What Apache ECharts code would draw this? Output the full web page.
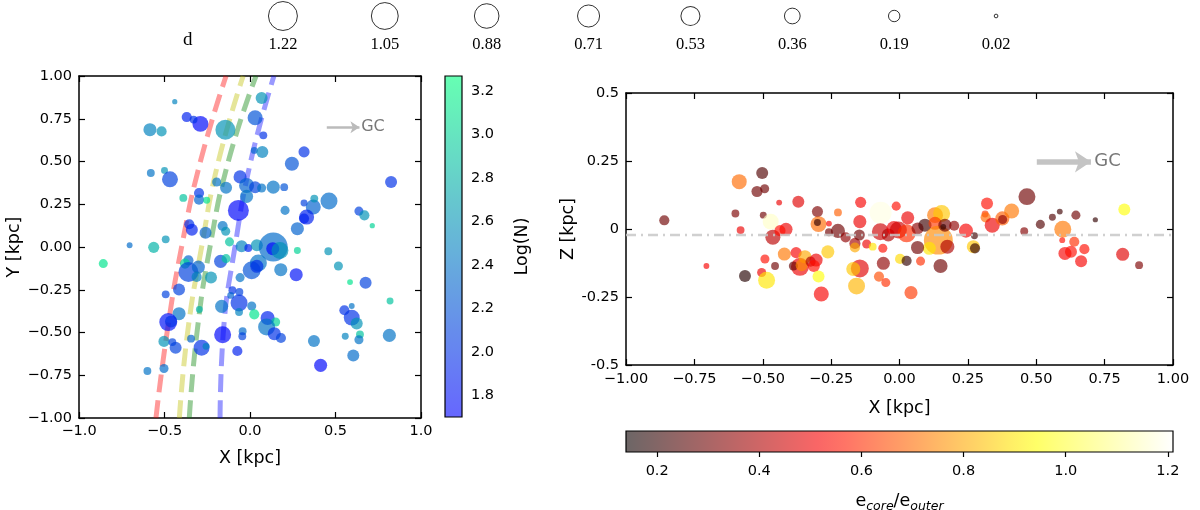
<!DOCTYPE html>
<html>
<head>
<meta charset="utf-8">
<script src="https://cdn.jsdelivr.net/npm/echarts@6/dist/echarts.min.js"></script>
<style>
  html, body { margin: 0; padding: 0; background: #fff; }
  #chart { width: 1200px; height: 510px; }
</style>
</head>
<body>
<div id="chart"></div>
<script>
// left panel: X-Y positions, size d, colour Log(N)
var leftX = [-0.44,-0.37,-0.29,-0.33,-0.585,-0.517,-0.144,0.068,0.03,0.078,0.025,0.072,0.316,0.245,-0.58,-0.5,-0.468,-0.195,-0.14,-0.058,
  -0.02,0.03,0.068,0.136,0.2,0.825,-0.298,-0.298,-0.39,-0.253,-0.068,-0.02,0.462,0.37,0.316,0.376,0.331,0.316,0.205,0.637,
  0.669,0.715,0.277,-0.355,-0.34,-0.26,-0.16,-0.142,-0.12,-0.493,-0.563,-0.704,-0.858,-0.049,-0.01,0.04,0.136,0.133,0.175,0.277,
  0.458,0.517,0.585,0.676,0.819,0.049,0.01,0.04,0.18,0.27,-0.058,-0.172,-0.14,-0.36,-0.38,-0.36,-0.302,-0.312,-0.228,-0.415,
  -0.493,-0.103,-0.062,-0.113,-0.064,-0.064,-0.166,-0.296,-0.415,-0.478,-0.462,0.01,0.025,0.103,0.15,0.097,0.142,0.181,-0.16,-0.043,
  -0.045,-0.074,-0.283,-0.257,-0.435,-0.503,-0.454,-0.345,-0.6,-0.503,0.374,0.413,0.604,0.552,0.595,0.595,0.624,0.643,0.637,0.557,0.815]
var leftY = [0.85,0.76,0.72,0.745,0.686,0.676,0.686,0.871,0.756,0.653,0.565,0.556,0.556,0.487,0.433,0.448,0.396,0.38,0.347,0.41,
  0.36,0.35,0.345,0.35,0.35,0.38,0.316,0.277,0.287,0.273,0.214,0.296,0.269,0.234,0.257,0.283,0.175,0.166,0.214,0.21,
  0.185,0.125,0.107,0.133,0.101,0.084,0.123,0.092,0.03,0.045,-0.002,0.01,-0.097,0.004,-0.006,0.01,0.0,-0.01,-0.02,-0.02,
  -0.025,-0.111,-0.205,-0.209,-0.316,-0.094,-0.136,-0.113,-0.133,-0.162,-0.179,-0.084,-0.068,-0.078,-0.097,-0.146,-0.117,-0.175,-0.179,-0.248,
  -0.277,-0.253,-0.263,-0.283,-0.327,-0.38,-0.347,-0.366,-0.39,-0.439,-0.435,-0.345,-0.394,-0.415,-0.439,-0.468,-0.507,-0.532,-0.513,-0.493,
  -0.522,-0.608,-0.589,-0.581,-0.589,-0.552,-0.556,-0.536,-0.725,-0.711,-0.55,-0.692,-0.634,-0.37,-0.345,-0.413,-0.448,-0.511,-0.542,-0.522,-0.517]
var leftD = [0.04,0.15,0.37,0.09,0.25,0.15,0.58,0.21,0.33,0.09,0.07,0.21,0.18,0.29,0.09,0.07,0.37,0.12,0.21,0.25,
  0.33,0.21,0.12,0.25,0.09,0.21,0.15,0.15,0.09,0.07,0.64,0.25,0.42,0.33,0.07,0.09,0.33,0.15,0.12,0.12,
  0.15,0.04,0.25,0.15,0.21,0.21,0.15,0.12,0.12,0.09,0.18,0.05,0.12,0.21,0.09,0.21,1.22,0.25,0.42,0.07,
  0.09,0.12,0.05,0.21,0.07,0.42,0.47,0.25,0.25,0.25,0.12,0.25,0.12,0.15,0.15,0.58,0.25,0.15,0.21,0.21,
  0.09,0.09,0.09,0.07,0.42,0.09,0.25,0.07,0.25,0.47,0.21,0.12,0.15,0.29,0.12,0.42,0.25,0.15,0.42,0.09,
  0.09,0.15,0.37,0.07,0.21,0.18,0.09,0.09,0.09,0.12,0.21,0.25,0.21,0.15,0.05,0.37,0.21,0.09,0.12,0.07,0.25]
var leftLogN = [2.5,1.9,1.75,2.0,2.5,2.6,2.6,2.6,2.2,2.0,2.3,2.5,2.0,2.2,2.4,2.6,2.1,2.4,2.4,2.0,
  2.3,2.1,2.4,2.4,2.2,2.0,2.0,2.3,2.9,3.1,1.75,2.4,2.35,2.3,2.1,2.6,1.9,1.9,2.4,2.1,
  2.6,3.0,2.3,2.0,1.9,2.3,2.4,2.6,2.9,2.6,2.8,2.35,3.1,2.5,1.9,2.6,2.35,1.75,2.6,3.0,
  2.6,2.6,3.1,2.1,2.9,2.4,2.2,2.0,2.4,1.8,2.4,2.1,2.9,2.3,3.0,2.1,2.3,2.5,2.6,2.1,
  2.1,2.0,2.1,2.3,2.0,2.5,2.4,2.8,2.4,1.8,2.0,2.4,3.1,1.9,3.0,2.4,2.0,2.1,1.75,2.35,
  2.1,1.9,2.0,2.5,2.1,2.6,2.1,2.3,2.4,2.35,2.4,1.75,2.35,2.0,2.4,2.0,2.6,2.9,2.4,2.5,2.4]

// right panel: X-Z positions, size d, colour e_core/e_outer
var rightX = [-0.86,-0.706,-0.6,-0.581,-0.586,-0.502,-0.521,-0.493,-0.498,-0.44,-0.471,-0.463,-0.415,-0.437,-0.37,-0.492,-0.455,-0.504,-0.565,-0.486,
  -0.421,-0.378,-0.364,-0.388,-0.346,-0.358,-0.325,-0.305,-0.313,-0.296,-0.286,-0.262,-0.3,-0.296,-0.3,-0.258,-0.225,-0.225,-0.258,-0.197,
  -0.163,-0.163,-0.147,-0.145,-0.142,-0.069,-0.012,-0.12,-0.098,-0.061,-0.07,-0.041,-0.02,-0.059,-0.145,-0.169,-0.157,-0.075,-0.05,0.03,
  -0.004,0.026,0.066,0.093,0.13,0.154,0.13,0.142,0.166,0.16,0.2,0.175,0.109,0.066,0.002,0.026,0.077,0.15,0.042,0.243,
  0.274,0.27,0.276,0.32,0.313,0.315,0.339,0.376,0.377,0.41,0.466,0.456,0.515,0.559,0.586,0.645,0.716,0.822,0.597,0.595,
  0.639,0.605,0.627,0.676,0.664,0.816,0.876]
var rightZ = [0.032,-0.136,0.057,-0.004,0.174,0.206,0.138,0.148,0.051,0.097,0.027,-0.03,-0.001,-0.006,0.1,-0.11,-0.136,-0.16,-0.173,-0.188,
  -0.092,-0.087,-0.139,-0.136,-0.102,-0.133,-0.12,-0.114,-0.136,-0.175,-0.239,-0.084,0.064,0.018,0.024,0.02,0.061,-0.007,-0.012,-0.031,
  -0.053,-0.068,-0.022,0.027,0.098,0.06,0.084,-0.055,-0.065,-0.071,-0.01,-0.022,0.002,-0.126,-0.145,-0.147,-0.21,-0.175,-0.197,0.041,
  -0.004,-0.016,0.002,0.014,0.051,0.057,0.021,-0.041,0.014,0.008,0.012,-0.065,-0.071,-0.068,-0.11,-0.117,-0.118,-0.136,-0.234,-0.006,
  -0.025,-0.065,-0.071,0.094,0.055,0.043,0.014,0.039,0.035,0.066,0.119,-0.008,0.017,0.043,0.064,0.051,0.034,0.072,-0.001,-0.041,
  -0.047,-0.09,-0.084,-0.074,-0.119,-0.093,-0.133]
var rightD = [0.15,0.05,0.09,0.09,0.33,0.21,0.18,0.12,0.07,0.05,0.37,0.33,0.25,0.18,0.21,0.12,0.09,0.12,0.21,0.42,
  0.25,0.18,0.47,0.12,0.25,0.21,0.15,0.25,0.21,0.21,0.33,0.25,0.18,0.37,0.07,0.05,0.09,0.29,0.09,0.15,
  0.18,0.15,0.18,0.25,0.18,0.7,0.12,0.12,0.09,0.12,0.42,0.25,0.33,0.25,0.47,0.29,0.42,0.15,0.12,0.25,
  0.42,0.47,0.21,0.25,0.37,0.42,0.25,1.22,0.25,0.05,0.15,0.29,0.25,0.25,0.15,0.15,0.12,0.29,0.25,0.29,
  0.07,0.25,0.15,0.21,0.07,0.15,0.33,0.29,0.12,0.33,0.42,0.09,0.12,0.07,0.05,0.12,0.04,0.21,0.42,0.05,
  0.15,0.25,0.21,0.15,0.21,0.25,0.09]
var rightE = [0.3,0.52,0.32,0.5,0.7,0.25,0.3,0.3,0.3,0.5,1.15,0.42,0.5,0.55,0.48,0.55,0.3,0.5,0.18,0.9,
  0.72,0.52,0.5,0.28,0.8,0.75,0.4,0.5,0.55,0.95,0.52,0.85,0.32,0.7,0.2,0.52,0.68,0.3,0.3,0.35,
  0.38,0.8,0.3,0.5,0.52,1.18,0.55,0.5,0.9,0.55,0.45,0.4,0.5,0.35,0.48,0.85,0.82,0.65,0.6,0.5,
  0.45,0.6,0.35,0.22,0.72,0.85,0.62,0.75,0.3,0.2,0.35,0.4,0.9,0.3,0.88,0.2,0.6,0.3,0.62,0.52,
  0.22,0.85,0.2,0.55,0.62,0.7,0.5,0.68,0.35,0.72,0.3,0.33,0.25,0.25,0.22,0.3,0.2,0.95,0.72,0.55,
  0.6,0.52,0.55,0.55,0.52,0.48,0.32]

// dashed arm lines (X at the listed Y)
var armY = [-1, -0.5, 0, 0.5, 1]
var armRed = [-0.55, -0.485, -0.40, -0.29, -0.14]
var armYellow = [-0.413, -0.365, -0.283, -0.185, -0.04]
var armGreen = [-0.355, -0.31, -0.234, -0.127, 0.035]
var armBlue = [-0.175, -0.156, -0.088, 0.004, 0.14]

// size legend
var legendD = [1.22, 1.05, 0.88, 0.71, 0.53, 0.36, 0.19, 0.02]
var logNTicks = [1.8, 2.0, 2.2, 2.4, 2.6, 2.8, 3.0, 3.2]
var eTicks = [0.2, 0.4, 0.6, 0.8, 1.0, 1.2]
var logNMin = 1.70, logNMax = 3.27
var eMin = 0.139, eMax = 1.21
var zMid = -0.022

var FONT = 'DejaVu Sans'
function sizeOf(d) { return 26.2 * Math.sqrt(d) }
function minus(s) { return s.replace('-', '\u2212') }

// colormaps
function winter(t) { return [0, t, 1 - 0.5 * t] }
function hot(t) {
  var r = Math.min(1, 0.0416 + t / 0.365 * (1 - 0.0416))
  var g = Math.max(0, Math.min(1, (t - 0.365) / (0.746 - 0.365)))
  var b = Math.max(0, Math.min(1, (t - 0.746) / (1 - 0.746)))
  return [r, g, b]
}
function rgb(c, alpha) {
  var a = alpha == null ? 1 : alpha
  var f = function (v) { return Math.round((v * a + (1 - a)) * 255) }
  return 'rgb(' + f(c[0]) + ',' + f(c[1]) + ',' + f(c[2]) + ')'
}
function samples(fn, n, alpha) {
  var out = []
  for (var i = 0; i <= n; i++) out.push(rgb(fn(i / n), alpha))
  return out
}
function stops(fn, n, alpha) {
  var out = []
  for (var i = 0; i <= n; i++) out.push({ offset: i / n, color: rgb(fn(i / n), alpha) })
  return out
}

var leftData = leftX.map(function (x, i) { return [x, leftY[i], leftLogN[i], leftD[i]] })
var rightData = rightX.map(function (x, i) { return [x, rightZ[i], rightE[i], rightD[i]] })
function arm(xs) { return xs.map(function (x, i) { return [x, armY[i]] }) }

var chart = echarts.init(document.getElementById('chart'))

var tickStyle = { inside: true, length: 6, lineStyle: { color: '#000', width: 1.2 } }
var lineStyle = { onZero: false, lineStyle: { color: '#000', width: 1.5 } }
var labelStyle = { color: '#000', fontFamily: FONT, fontSize: 14.5 }
var nameStyle = { color: '#000', fontFamily: FONT, fontSize: 17.5 }

function frameAxis(grid, pos, min, max, interval) {
  return { gridIndex: grid, type: 'value', position: pos, min: min, max: max, interval: interval,
    axisLine: lineStyle, axisTick: tickStyle, axisLabel: { show: false }, splitLine: { show: false } }
}

function colorbar(fn, horizontal) {
  return function (params, api) {
    var p0 = horizontal ? api.coord([eMin, 1]) : api.coord([0, logNMax])
    var p1 = horizontal ? api.coord([eMax, 0]) : api.coord([1, logNMin])
    var grad = horizontal
      ? new echarts.graphic.LinearGradient(0, 0, 1, 0, stops(fn, 20, 0.6))
      : new echarts.graphic.LinearGradient(0, 1, 0, 0, stops(fn, 20, 0.6))
    return {
      type: 'rect',
      shape: { x: p0[0], y: p0[1], width: p1[0] - p0[0], height: p1[1] - p0[1] },
      style: { fill: grad, stroke: '#000', lineWidth: 1.2 }
    }
  }
}

function armSeries(xs, color) {
  return {
    type: 'line', xAxisIndex: 0, yAxisIndex: 0, data: arm(xs), smooth: true, symbol: 'none',
    lineStyle: { color: color, width: 5, opacity: 0.4, type: [18, 8] }, z: 1, silent: true
  }
}

chart.setOption({
  animation: false,
  backgroundColor: '#fff',
  grid: [
    { left: 79, top: 76, width: 342, height: 342, outerBoundsMode: 'none' },
    { left: 626, top: 93, width: 547, height: 272, outerBoundsMode: 'none' },
    { left: 445, top: 76, width: 17, height: 341, outerBoundsMode: 'none' },
    { left: 626, top: 431, width: 547, height: 21, outerBoundsMode: 'none' },
    { left: 232, top: 3, width: 815, height: 26, outerBoundsMode: 'none' }
  ],
  xAxis: [
    { gridIndex: 0, type: 'value', min: -1, max: 1, interval: 0.5, axisLine: lineStyle, axisTick: tickStyle,
      splitLine: { show: false },
      axisLabel: Object.assign({ margin: 6, formatter: function (v) { return minus(v.toFixed(1)) } }, labelStyle),
      name: 'X [kpc]', nameLocation: 'middle', nameGap: 31, nameTextStyle: nameStyle },
    frameAxis(0, 'top', -1, 1, 0.5),
    { gridIndex: 1, type: 'value', min: -1, max: 1, interval: 0.25, axisLine: lineStyle, axisTick: tickStyle,
      splitLine: { show: false },
      axisLabel: Object.assign({ margin: 7, formatter: function (v) { return minus(v.toFixed(2)) } }, labelStyle),
      name: 'X [kpc]', nameLocation: 'middle', nameGap: 34, nameTextStyle: nameStyle },
    frameAxis(1, 'top', -1, 1, 0.25),
    { gridIndex: 2, type: 'value', min: 0, max: 1, show: false },
    { gridIndex: 3, type: 'value', min: eMin, max: eMax, axisLine: { show: false }, splitLine: { show: false },
      axisTick: { inside: false, length: 5, customValues: eTicks, lineStyle: { color: '#000', width: 1.2 } },
      axisLabel: Object.assign({ margin: 12, customValues: eTicks, formatter: function (v) { return v.toFixed(1) } }, labelStyle),
      name: '{a|e}{b|core}{a|/e}{b|outer}', nameLocation: 'middle', nameGap: 38,
      nameTextStyle: { rich: {
        a: { color: '#000', fontFamily: FONT, fontSize: 17.5 },
        b: { color: '#000', fontFamily: FONT, fontSize: 12.5, fontStyle: 'italic', padding: [10, 0, 0, 0] }
      } } },
    { gridIndex: 4, type: 'category', data: legendD.map(function (v) { return v.toFixed(2) }),
      axisLine: { show: false }, axisTick: { show: false }, splitLine: { show: false },
      axisLabel: { margin: 7, color: '#000', fontFamily: 'Liberation Serif', fontSize: 16.5 } }
  ],
  yAxis: [
    { gridIndex: 0, type: 'value', min: -1, max: 1, interval: 0.25, axisLine: lineStyle, axisTick: tickStyle,
      splitLine: { show: false },
      axisLabel: Object.assign({ margin: 7, formatter: function (v) { return minus(v.toFixed(2)) } }, labelStyle),
      name: 'Y [kpc]', nameLocation: 'middle', nameGap: 52, nameTextStyle: nameStyle },
    frameAxis(0, 'right', -1, 1, 0.25),
    { gridIndex: 1, type: 'value', min: -0.5, max: 0.5, interval: 0.25, axisLine: lineStyle, axisTick: tickStyle,
      splitLine: { show: false },
      axisLabel: Object.assign({ margin: 7, formatter: function (v) { return String(v) } }, labelStyle),
      name: 'Z [kpc]', nameLocation: 'middle', nameGap: 41, nameTextStyle: nameStyle },
    frameAxis(1, 'right', -0.5, 0.5, 0.25),
    { gridIndex: 2, type: 'value', position: 'right', min: logNMin, max: logNMax, axisLine: { show: false },
      splitLine: { show: false },
      axisTick: { inside: false, length: 5, customValues: logNTicks, lineStyle: { color: '#000', width: 1.2 } },
      axisLabel: Object.assign({ margin: 9, customValues: logNTicks, formatter: function (v) { return v.toFixed(1) } }, labelStyle),
      name: 'Log(N)', nameLocation: 'middle', nameGap: 51, nameTextStyle: nameStyle },
    { gridIndex: 3, type: 'value', min: 0, max: 1, show: false },
    { gridIndex: 4, type: 'value', min: -1, max: 1, show: false }
  ],
  visualMap: [
    { show: false, seriesIndex: 4, dimension: 2, min: logNMin, max: logNMax, inRange: { color: samples(winter, 10) } },
    { show: false, seriesIndex: 7, dimension: 2, min: eMin, max: eMax, inRange: { color: samples(hot, 40) } }
  ],
  graphic: [
    { type: 'text', left: 183, top: 31, style: { text: 'd', fill: '#000', font: '19px "Liberation Serif"' } }
  ],
  series: [
    armSeries(armRed, '#ff0000'),
    armSeries(armYellow, '#bfbf00'),
    armSeries(armGreen, '#008000'),
    armSeries(armBlue, '#0000ff'),
    { type: 'scatter', xAxisIndex: 0, yAxisIndex: 0, data: leftData, z: 3,
      symbolSize: function (v) { return sizeOf(v[3]) }, itemStyle: { opacity: 0.68 } },
    { type: 'lines', coordinateSystem: 'cartesian2d', xAxisIndex: 0, yAxisIndex: 0, z: 4,
      symbol: ['none', 'arrow'], symbolSize: [0, 9],
      lineStyle: { color: '#bbbbbb', width: 2.5, opacity: 1, curveness: 0 },
      data: [{ coords: [[0.449, 0.70], [0.64, 0.70]] }] },
    { type: 'scatter', xAxisIndex: 0, yAxisIndex: 0, z: 4, symbolSize: 0, data: [[0.65, 0.70]],
      label: { show: true, position: 'right', distance: 0, formatter: 'GC', color: '#555', fontFamily: FONT, fontSize: 16 } },
    { type: 'scatter', xAxisIndex: 2, yAxisIndex: 2, data: rightData, z: 3,
      symbolSize: function (v) { return sizeOf(v[3]) }, itemStyle: { opacity: 0.65 } },
    { type: 'line', xAxisIndex: 2, yAxisIndex: 2, data: [[-1, zMid], [1, zMid]], symbol: 'none', z: 4, silent: true,
      lineStyle: { color: '#c8c8c8', width: 2.5, opacity: 0.85, type: [10, 5, 2, 5] } },
    { type: 'lines', coordinateSystem: 'cartesian2d', xAxisIndex: 2, yAxisIndex: 2, z: 4,
      symbol: ['none', 'arrow'], symbolSize: [0, 16],
      lineStyle: { color: '#c4c4c4', width: 5.5, opacity: 1, curveness: 0 },
      data: [{ coords: [[0.502, 0.247], [0.70, 0.247]] }] },
    { type: 'scatter', xAxisIndex: 2, yAxisIndex: 2, z: 4, symbolSize: 0, data: [[0.712, 0.247]],
      label: { show: true, position: 'right', distance: 0, formatter: 'GC', color: '#555', fontFamily: FONT, fontSize: 18 } },
    { type: 'custom', xAxisIndex: 4, yAxisIndex: 4, data: [[0.5, 2.5]], renderItem: colorbar(winter, false), silent: true },
    { type: 'custom', xAxisIndex: 5, yAxisIndex: 5, data: [[0.6, 0.5]], renderItem: colorbar(hot, true), silent: true },
    { type: 'scatter', xAxisIndex: 6, yAxisIndex: 6, silent: true,
      data: legendD.map(function (v, i) { return [i, 0, v] }),
      symbolSize: function (v) { return sizeOf(v[2]) },
      itemStyle: { color: 'rgba(0,0,0,0)', borderColor: '#000', borderWidth: 1 } }
  ]
})
</script>
</body>
</html>
